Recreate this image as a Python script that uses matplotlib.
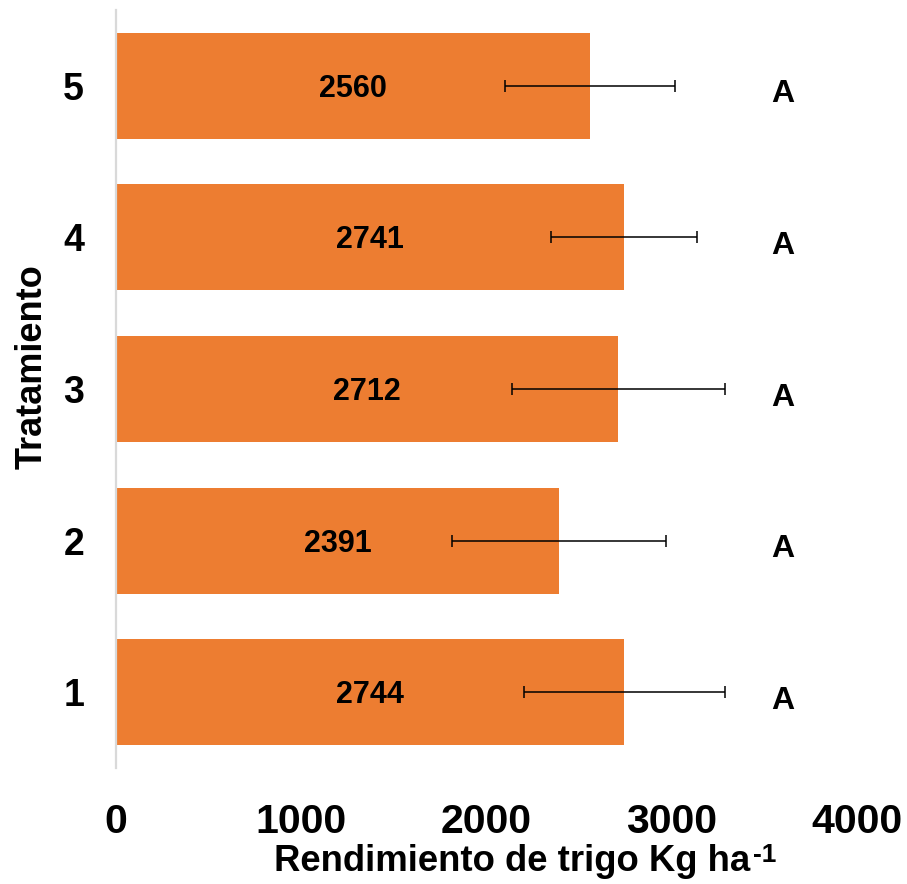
import matplotlib
matplotlib.use("Agg")
import matplotlib.pyplot as plt

# Wheat yield per treatment (kg/ha), with error half-widths and significance letters
treatments = ["1", "2", "3", "4", "5"]
yields = [2744, 2391, 2712, 2741, 2560]
errors = [542, 577, 576, 395, 459]
letters = ["A", "A", "A", "A", "A"]
x_ticks = [0, 1000, 2000, 3000, 4000]
letter_x = 3600

plt.rcParams["font.family"] = ["Liberation Sans", "DejaVu Sans"]
plt.rcParams["font.weight"] = "bold"

W, H = 907, 884
fig = plt.figure(figsize=(W / 100, H / 100), dpi=100)
left, right, top, bottom = 116, 857, 10, 768
ax = fig.add_axes([left / W, 1 - bottom / H, (right - left) / W, (bottom - top) / H])

orange = "#ED7D31"
ypos = list(range(1, len(treatments) + 1))
ax.barh(ypos, yields, height=0.70, color=orange, zorder=2)
ax.errorbar(yields, ypos, xerr=errors, fmt="none", ecolor="black",
            elinewidth=1.1, capsize=4.3, capthick=1.1, zorder=3)

for y, v in zip(ypos, yields):
    ax.text(v / 2, y - 0.073, f"{v}", ha="center", va="baseline", fontsize=22,
            fontweight="bold", color="black", zorder=4)

for y, lab in zip(ypos, letters):
    ax.text(letter_x, y - 0.11, lab, ha="center", va="baseline", fontsize=23,
            fontweight="bold", color="black")

ax.set_xlim(0, 4000)
ax.set_ylim(0.5, len(treatments) + 0.5)
ax.set_xticks(x_ticks)
ax.set_xticklabels([str(t) for t in x_ticks], fontsize=29.5, fontweight="bold")
ax.set_yticks(ypos)
ax.set_yticklabels(treatments, fontsize=27, fontweight="bold")
ax.tick_params(axis="x", length=0, pad=25)
ax.tick_params(axis="y", length=0, pad=23)

for s in ["top", "right", "bottom"]:
    ax.spines[s].set_visible(False)
ax.spines["left"].set_color("#D9D9D9")
ax.spines["left"].set_linewidth(1.6)

ax.set_xlabel("Rendimiento de trigo Kg ha", fontsize=26.3, fontweight="bold")
ax.xaxis.label.set_va("baseline")
ax.xaxis.set_label_coords((512 - left) / (right - left), (bottom - 871) / (bottom - top))
ax.annotate("-1", xy=(1, 1), xycoords=ax.xaxis.label, xytext=(2, 1),
            textcoords="offset points", ha="left", va="top",
            fontsize=19, fontweight="bold")

ax.set_ylabel("Tratamiento", fontsize=26, fontweight="bold")
ax.yaxis.label.set_va("center")
ax.yaxis.label.set_ha("center")
ax.yaxis.set_label_coords((32 - left) / (right - left), (bottom - 367) / (bottom - top))

fig.savefig("out.png", dpi=100)
